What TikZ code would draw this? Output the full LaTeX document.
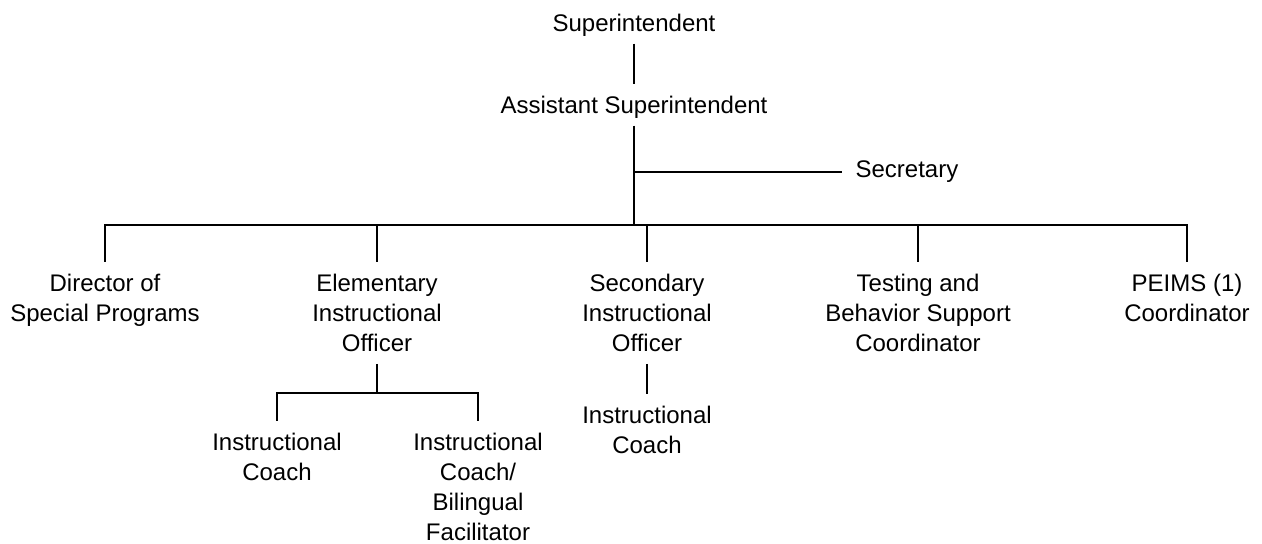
\documentclass[tikz,border=0pt]{standalone}
\usepackage{fontspec}
\setmainfont{Liberation Sans}
\begin{document}
\begin{tikzpicture}[x=0.5pt, y=-0.5pt, line width=0.6pt,
		role/.style={align=center, anchor=north, inner xsep=0pt, inner ysep=5.75pt, font=\fontsize{12}{15}\selectfont}]
			\useasboundingbox (0,0) rectangle (1262,544);
			%top of the chart
			\node (sup) at (634, 2) [role, text depth=0pt]{Superintendent};
			\node (asup) at (634, 84) [role, text depth=0pt]{Assistant Superintendent};
			\node (secy) at (842, 172) [role, anchor=west, inner xsep=6.5pt]{Secretary};
			\coordinate (bus) at (634, 225);
			\draw (sup.south) -- (asup.north);
			\draw (asup.south) -- (bus);
			\draw (asup.south |- secy.west) -- (secy.west);
			
			%second level
			\node (dir) at (105, 262) [role]{Director of\\Special Programs};
			\node (elem) at (377, 262) [role]{Elementary\\Instructional\\Officer};
			\node (sec) at (647, 262) [role]{Secondary\\Instructional\\Officer};
			\node (test) at (918, 262) [role]{Testing and\\Behavior Support\\Coordinator};
			\node (peims) at (1187, 262) [role]{PEIMS (1)\\Coordinator};
			\draw (dir.north) |- (bus) -| (peims.north);
			\foreach \n in {elem, sec, test}{
				\draw (\n.north) -- (\n.north |- bus);
			}
			
			%third level
			\coordinate (ebus) at (377, 393);
			\node (coach1) at (277, 421) [role]{Instructional\\Coach};
			\node (coach2) at (478, 421) [role]{Instructional\\Coach/\\Bilingual\\Facilitator};
			\node (coach3) at (647, 394) [role]{Instructional\\Coach};
			\draw (elem.south) -- (ebus);
			\draw (coach1.north) |- (ebus) -| (coach2.north);
			\draw (sec.south) -- (coach3.north);
		\end{tikzpicture}
\end{document}
